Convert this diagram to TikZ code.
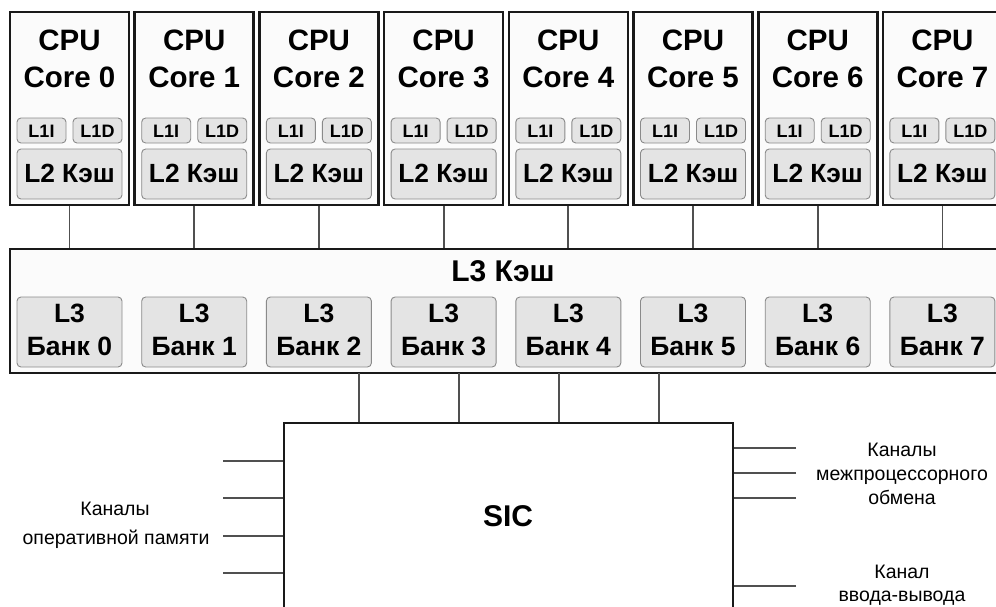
\documentclass[tikz,border=0pt]{standalone}
\usepackage{fontspec}
\setmainfont{Liberation Sans}
\definecolor{boxfill}{HTML}{FBFBFB}
\definecolor{innerfill}{HTML}{E4E4E4}
\definecolor{innerdraw}{HTML}{8A8A8A}
\definecolor{wire}{HTML}{505050}
\tikzset{
  bigbox/.style={draw=black!90, line width=2.6pt, fill=boxfill, inner sep=0pt},
  inner/.style={draw=innerdraw, line width=0.9pt, fill=innerfill, rounded corners=4pt, inner sep=0pt},
  wireline/.style={draw=wire, line width=1.8pt},
  coretxt/.style={font=\fontsize{29.5}{31}\selectfont\bfseries, anchor=base, inner sep=0pt},
  l1txt/.style={font=\fontsize{18}{19}\selectfont\bfseries, anchor=base, inner sep=0pt},
  l2txt/.style={font=\fontsize{26.3}{28}\selectfont\bfseries, anchor=base, inner sep=0pt},
  banktxt/.style={font=\fontsize{26.5}{28}\selectfont\bfseries, anchor=base, inner sep=0pt},
  lbl/.style={font=\fontsize{19.5}{21}\selectfont, anchor=base, inner sep=0pt},
}
\begin{document}
\begin{tikzpicture}[x=1pt,y=-1pt]
\useasboundingbox (0,0) rectangle (996,606);
\clip (0,0) rectangle (996,606);
\fill[white] (0,0) rectangle (996,606);
% CPU cores
\foreach \i in {0,...,7}{
  \pgfmathsetmacro{\cx}{69.5+124.7*\i}
  \node[bigbox, minimum width=119pt, minimum height=193pt] (c\i) at (\cx,108.5) {};
  \node[coretxt] (cpu\i) at (\cx,50) {CPU};
  \node[coretxt] (cn\i) at (\cx,87) {Core \i};
  \node[inner, minimum width=49pt, minimum height=25pt] (l1i\i) at (\cx-28,130.5) {};
  \node[l1txt] (l1it\i) at (\cx-28,137.5) {L1I};
  \node[inner, minimum width=49pt, minimum height=25pt] (l1d\i) at (\cx+28,130.5) {};
  \node[l1txt] (l1dt\i) at (\cx+28,137.5) {L1D};
  \node[inner, minimum width=105pt, minimum height=50pt] (l2\i) at (\cx,174) {};
  \node[l2txt] (l2t\i) at (\cx,182.5) {L2 Кэш};
}
% L3 cache
\node[bigbox, minimum width=994pt, minimum height=124pt] (l3) at (507,311) {};
\node[font=\fontsize{30}{32}\selectfont\bfseries, anchor=base, inner sep=0pt] (l3t) at (503,281) {L3 Кэш};
\foreach \i in {0,...,7}{
  \pgfmathsetmacro{\bx}{69.5+124.7*\i}
  \node[inner, minimum width=105pt, minimum height=70pt] (b\i) at (\bx,332) {};
  \node[banktxt] (bl\i) at (\bx,322.5) {L3};
  \node[banktxt] (bn\i) at (\bx,355.5) {Банк \i};
}
% core to L3 connectors
\foreach \i in {0,...,7}{
  \draw[wireline] (c\i.south) -- (c\i.south |- l3.north);
}
% SIC
\node[bigbox, line width=2.2pt, fill=white, minimum width=449pt, minimum height=277pt] (sic) at (508.5,561.5) {};
\node[font=\fontsize{30}{32}\selectfont\bfseries, inner sep=0pt] (sict) at (508,516) {SIC};
\foreach \x/\n in {359/a,459/b,559/c,659/d}{
  \coordinate (up\n) at (\x,373);
  \draw[wireline] (up\n) -- (up\n |- sic.north);
}
% left memory channels
\foreach \y/\n in {461/a,498/b,536/c,573/d}{
  \coordinate (ml\n) at (223,\y);
  \draw[wireline] (ml\n) -- (ml\n -| sic.west);
}
% right channels
\foreach \y/\n in {448/a,473/b,498/c,586/d}{
  \coordinate (mr\n) at (796,\y);
  \draw[wireline] (mr\n) -- (mr\n -| sic.east);
}
% labels
\node[lbl] (lm1) at (115,515) {Каналы};
\node[lbl] (lm2) at (116,544) {оперативной памяти};
\node[lbl] (rp1) at (902,456) {Каналы};
\node[lbl] (rp2) at (902,480) {межпроцессорного};
\node[lbl] (rp3) at (902,504) {обмена};
\node[lbl] (ri1) at (902,578) {Канал};
\node[lbl] (ri2) at (902,601) {ввода-вывода};
\end{tikzpicture}
\end{document}
